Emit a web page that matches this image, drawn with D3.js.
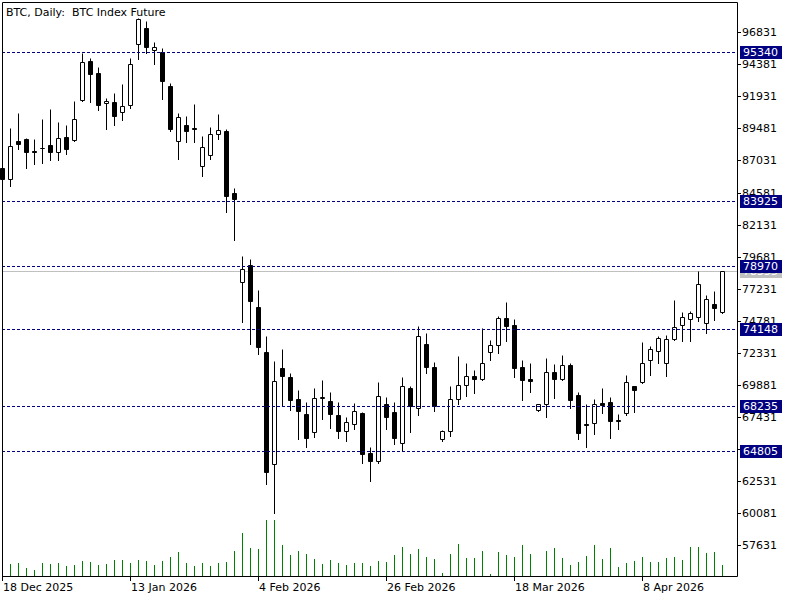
<!DOCTYPE html>
<html>
<head>
<meta charset="utf-8">
<script src="https://cdn.jsdelivr.net/npm/d3@7"></script>
<style>
  body { margin: 0; background: #fff; }
  text { font-family: "DejaVu Sans", sans-serif; font-size: 11px; }
</style>
</head>
<body>
<svg id="svg" width="800" height="600"></svg>
<script>
// daily OHLC, one entry per bar (index 0 = 18 Dec 2025)
const open = [86430,85590,88520,88650,87780,88010,88190,87655,88825,88570,
  91650,94610,93720,91400,91480,90710,91295,95940,97140,95500,
  95350,92700,88500,89720,89515,86585,87425,89075,89260,84565,
  77715,79015,75825,72385,63800,71160,70475,68770,67620,66245,
  68900,68640,67545,66365,66855,67700,64640,64075,68385,67775,
  65405,69610,68080,72975,71215,65710,66320,68770,69840,70525,
  70295,72360,72895,74960,74425,71215,70295,67925,68385,70830,
  70295,71370,69075,66855,66930,68460,68540,67160,67695,69785,
  70070,71750,72440,71520,73355,74425,74885,75040,74580,76030,
  75420];
const high = [87070,89540,90640,88750,88650,90200,90970,89970,89720,91580,
  95270,94890,94155,91810,92170,92855,94840,97890,97720,96090,
  95610,92930,90640,90410,91325,88880,89615,90585,89460,84950,
  79725,79495,77125,73610,71695,72615,70800,69480,68560,69610,
  70245,69325,68560,67390,68460,67775,65100,70090,68945,68585,
  70475,69760,74375,73815,71600,66420,69785,72080,71545,71010,
  74195,73280,75135,76185,74885,71775,71545,68430,71905,71490,
  72155,71520,69305,68385,68770,69655,68965,67620,70605,69800,
  73125,72845,73585,73660,76340,75420,75495,78555,76720,77025,
  78560];
const low = [85080,85100,87910,86480,86740,86860,87040,87090,87500,88500,
  91600,91480,90890,89410,89770,90150,91065,94770,95225,94385,
  91755,89260,87165,88465,88465,85865,87145,88695,83115,80950,
  74700,73020,72210,62270,60050,68330,67970,65755,65145,65910,
  67285,66595,65830,65600,66520,63920,62545,63920,66520,65370,
  64835,66290,67590,70800,67850,65600,65940,68430,69045,69270,
  70250,71795,72330,73250,70495,68735,69350,67850,67390,68890,
  70220,68080,65710,65095,66090,67695,65785,66475,67545,67820,
  70040,70605,71520,70525,73320,73205,73205,74730,73815,74810,
  75345];
const close = [85590,88140,88270,87650,87700,87960,87655,88730,87885,90200,
  94540,93620,91295,91555,90410,91170,94385,97850,95710,95685,
  93085,89460,90355,89260,89415,88085,89055,89335,84335,84060,
  78710,76305,72790,63230,70145,70575,68735,67895,65830,68845,
  68940,67665,66365,67010,67850,64610,64075,69000,67435,65830,
  69760,68280,73585,71260,68280,66320,68770,69840,70525,70295,
  71520,72895,74960,74395,71185,70265,70145,68385,70830,70295,
  71370,68690,66170,66780,68445,68355,67085,67085,70070,69455,
  71520,72615,73430,73355,74275,75040,75345,77560,76415,75725,
  78555];
const volume = [1100,1200,1300,800,600,1300,1200,1300,1000,1100,
  1500,1400,1100,1200,1600,1600,1300,1600,1500,1100,
  1500,1900,2400,1300,1000,1300,1000,1300,1400,2500,
  4300,2800,2700,5600,5600,3100,2100,2500,2200,1700,
  1200,1600,1300,1100,1300,1300,1000,1500,1400,2100,
  2900,2200,2700,1900,1700,300,2200,3200,1800,1800,
  2500,200,2400,2100,1900,3100,2200,0,2500,2800,
  1800,1100,1400,2000,3100,1700,2800,900,1300,1500,
  1900,1400,1400,1800,1900,1600,2900,2900,2300,2400,
  1100];

const levels = [95340, 83925, 78970, 74148, 68235, 64805];
const priceTicks = d3.range(57631, 96832, 2450);
const dateIdx = [0, 16, 32, 48, 64, 80];
const dateLabels = ["18 Dec 2025", "13 Jan 2026", "4 Feb 2026", "26 Feb 2026", "18 Mar 2026", "8 Apr 2026"];
const title = "BTC, Daily:  BTC Index Future";
const lastPrice = close[close.length - 1];

const svg = d3.select('#svg');
const L = 2, R = 737, T = 2, B = 576;

const x = d3.scaleLinear().domain([0, 90]).range([2, 722]);
const y = d3.scaleLinear().domain([57631, 96831]).range([545, 32.3]);
const yv = d3.scaleLinear().domain([0, 5600]).range([B, 520]);
const px = v => Math.round(v) + 0.5;

svg.append("rect").attr("width", 800).attr("height", 600).attr("fill", "#fff");

// last price line
svg.append("line")
  .attr("x1", L).attr("x2", R)
  .attr("y1", px(y(lastPrice))).attr("y2", px(y(lastPrice)))
  .attr("stroke", "#c0c0c0");

// volumes
svg.append("g").selectAll("line").data(volume).join("line")
  .attr("x1", (d, i) => px(x(i))).attr("x2", (d, i) => px(x(i)))
  .attr("y1", B).attr("y2", d => Math.round(yv(d)))
  .attr("stroke", "#008000")
  .attr("display", d => d > 0 ? null : "none");

// candles
const bars = d3.range(open.length);
const g = svg.append("g");
g.selectAll("line").data(bars).join("line")
  .attr("x1", i => px(x(i))).attr("x2", i => px(x(i)))
  .attr("y1", i => px(y(high[i]))).attr("y2", i => px(y(low[i])) + 0.5)
  .attr("stroke", "#000");
g.selectAll("path").data(bars).join("path")
  .attr("d", i => {
    const cx = Math.round(x(i));
    const t = px(y(Math.max(open[i], close[i])));
    const b = px(y(Math.min(open[i], close[i])));
    return `M${cx - 1.5},${t}H${cx + 2.5}V${b}H${cx - 1.5}Z`;
  })
  .attr("fill", i => close[i] >= open[i] ? "#fff" : "#000")
  .attr("stroke", "#000");

// horizontal levels
svg.append("g").selectAll("line").data(levels).join("line")
  .attr("x1", L).attr("x2", R)
  .attr("y1", d => px(y(d))).attr("y2", d => px(y(d)))
  .attr("stroke", "#000080")
  .attr("stroke-dasharray", "3,2");

// frame
svg.append("path")
  .attr("d", `M${L + 0.5},${B + 0.5}V${T + 0.5}H${R + 0.5}V${B + 0.5}H${L + 0.5}`)
  .attr("fill", "none").attr("stroke", "#000");

// price axis
const pa = svg.append("g");
pa.selectAll("line").data(priceTicks).join("line")
  .attr("x1", R).attr("x2", R + 4)
  .attr("y1", d => px(y(d))).attr("y2", d => px(y(d)))
  .attr("stroke", "#000");
pa.selectAll("text").data(priceTicks).join("text")
  .attr("x", R + 5).attr("y", d => Math.round(y(d)))
  .attr("dy", "0.36em")
  .text(d => d);

// last price tag (grey) then level tags
const tag = (v, col) => {
  const yy = Math.round(y(v));
  svg.append("rect").attr("x", 740).attr("y", yy - 6).attr("width", 42).attr("height", 13).attr("fill", col);
  svg.append("text").attr("x", 743).attr("y", yy).attr("dy", "0.36em").attr("fill", "#fff").text(v);
};
tag(lastPrice, "#c0c0c0");
levels.forEach(v => tag(v, "#000080"));

// date axis
const da = svg.append("g");
da.selectAll("line").data(dateIdx).join("line")
  .attr("x1", i => px(x(i))).attr("x2", i => px(x(i)))
  .attr("y1", B).attr("y2", B + 5)
  .attr("stroke", "#000");
da.selectAll("text").data(dateIdx).join("text")
  .attr("x", i => Math.round(x(i)) + 1).attr("y", 591)
  .text((d, k) => dateLabels[k]);

svg.append("text")
  .attr("x", 6).attr("y", 16)
  .style("white-space", "pre")
  .text(title);
</script>
</body>
</html>
